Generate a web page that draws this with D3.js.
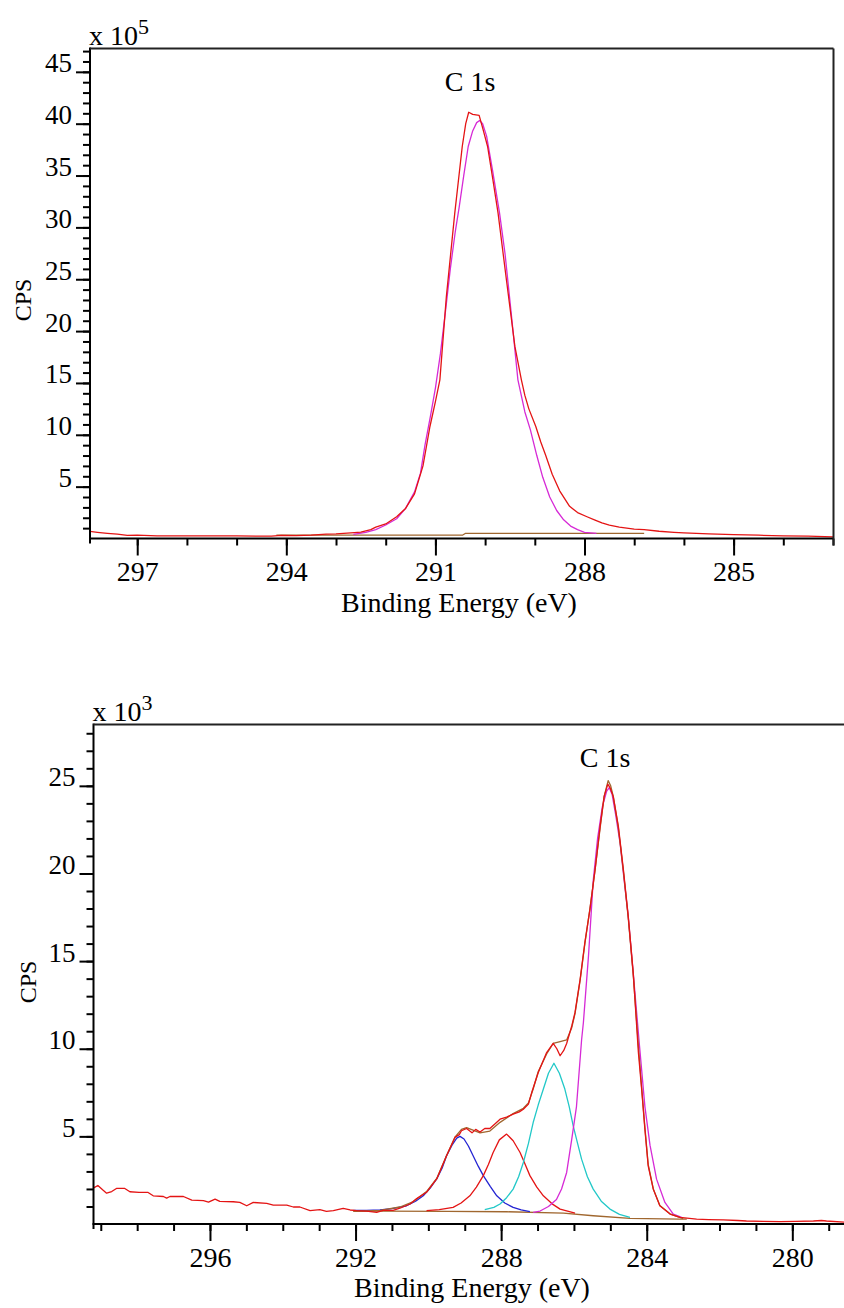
<!DOCTYPE html>
<html>
<head>
<meta charset="utf-8">
<script src="https://cdn.jsdelivr.net/npm/d3@7"></script>
<style>
body { margin: 0; background: #fff; }
svg { display: block; }
</style>
</head>
<body>
<div id="chart"></div>
<script>
// ---- data, [binding energy (eV), CPS in units of the axis multiplier] ----

// upper spectrum (x 10^5)
var topRaw = [[298.0,0.72],[297.8,0.6],[297.6,0.5],[297.4,0.42],[297.2,0.3],[297.0,0.32],[296.6,0.25],[296.0,0.25],
  [295.0,0.25],[294.3,0.22],[294.1,0.3],[293.8,0.28],[293.5,0.33],[293.2,0.42],[293.0,0.45],[292.7,0.55],[292.5,0.62],
  [292.3,0.85],[292.2,1.1],[292.0,1.4],[291.78,2.1],[291.6,2.9],[291.42,4.3],[291.25,7.0],[291.11,10.8],[291.0,13.2],
  [290.91,15.3],[290.78,23.3],[290.61,31.4],[290.46,37.8],[290.39,40.0],[290.33,41.1],[290.25,40.9],[290.12,40.8],
  [290.05,39.6],[289.95,37.8],[289.85,34.8],[289.74,31.4],[289.57,24.9],[289.4,18.5],[289.27,15.3],[289.2,13.8],
  [289.12,12.5],[288.98,10.8],[288.88,9.3],[288.78,8.0],[288.65,6.2],[288.5,4.6],[288.3,3.1],[288.14,2.5],[287.95,2.1],
  [287.8,1.8],[287.65,1.5],[287.5,1.3],[287.3,1.1],[287.0,0.9],[286.8,0.85],[286.5,0.7],[286.2,0.6],[286.0,0.55],
  [285.5,0.45],[285.0,0.38],[284.5,0.32],[284.0,0.25],[283.5,0.22],[283.0,0.15]];
var topPeak = [[292.65,0.4],[292.4,0.6],[292.2,0.85],[292.0,1.3],[291.78,1.9],[291.6,2.9],[291.42,4.5],[291.3,6.3],
  [291.21,9.0],[291.1,11.8],[291.0,14.5],[290.9,17.8],[290.8,21.8],[290.7,26.0],[290.6,29.6],[290.52,32.0],[290.43,35.0],
  [290.34,37.8],[290.25,39.3],[290.17,40.1],[290.11,40.3],[290.05,40.0],[289.97,38.8],[289.85,35.5],[289.71,31.4],
  [289.6,27.5],[289.47,21.5],[289.34,15.3],[289.2,12.2],[289.09,10.5],[288.96,8.0],[288.84,5.9],[288.7,4.0],
  [288.56,2.7],[288.42,1.8],[288.28,1.2],[288.14,0.85],[288.0,0.6],[287.76,0.5]];
var topBackground = [[294.2,0.33],[290.45,0.33],[290.4,0.49],[286.8,0.49]];

// lower spectrum (x 10^3)
var lowRaw = [[299.2,2.05],[299.17,2.09],[299.08,2.2],[298.95,1.95],[298.84,1.76],[298.7,1.85],[298.57,2.03],[298.34,2.03],
  [298.2,1.84],[297.95,1.8],[297.7,1.8],[297.56,1.61],[297.28,1.57],[297.19,1.48],[297.1,1.57],[296.73,1.57],[296.5,1.36],
  [296.18,1.33],[296.04,1.25],[295.86,1.42],[295.73,1.29],[295.36,1.27],[295.18,1.23],[294.99,1.04],[294.81,1.23],
  [294.44,1.18],[294.26,1.08],[293.89,1.08],[293.71,0.97],[293.53,0.97],[293.25,0.76],[292.98,0.82],[292.8,0.72],
  [292.61,0.76],[292.34,0.89],[292.15,0.8],[291.97,0.76],[291.7,0.74],[291.42,0.66],[291.24,0.78],[290.97,0.78],
  [290.78,0.9],[290.5,1.14],[290.32,1.45],[290.05,1.81],[289.77,2.57],[289.5,3.89],[289.27,4.94],[289.15,5.1],
  [289.09,5.32],[288.95,5.45],[288.8,5.2],[288.7,5.4],[288.58,5.25],[288.45,5.45],[288.31,5.45],[288.15,5.75],
  [288.03,5.98],[287.85,6.1],[287.67,6.27],[287.5,6.4],[287.39,6.55],[287.25,6.84],[287.16,7.5],[286.98,8.64],
  [286.75,9.78],[286.57,10.31],[286.47,10.0],[286.38,9.6],[286.28,9.9],[286.2,10.3],[286.06,11.3],[285.97,12.07],
  [285.83,13.96],[285.7,16.05],[285.56,17.95],[285.42,20.2],[285.28,22.7],[285.17,24.4],[285.07,25.1],[285.01,24.9],
  [284.92,24.4],[284.78,22.7],[284.64,20.2],[284.51,17.6],[284.37,14.3],[284.23,9.8],[284.14,7.7],[284.05,5.4],
  [283.96,3.32],[283.82,1.99],[283.64,1.04],[283.36,0.57],[283.09,0.38],[282.63,0.28],[282.3,0.25],[281.9,0.23],
  [281.5,0.2],[281.26,0.17],[280.8,0.15],[280.34,0.13],[279.9,0.15],[279.42,0.17],[279.2,0.2],[279.06,0.17],[278.58,0.11]];
var lowEnvelope = [[292.06,0.72],[291.33,0.78],[290.78,0.97],[290.41,1.28],[290.05,1.85],[289.77,2.6],[289.5,3.9],
  [289.27,4.95],[289.09,5.4],[288.95,5.5],[288.58,5.2],[288.31,5.3],[288.03,5.8],[287.67,6.3],[287.39,6.6],[287.25,6.9],
  [287.12,7.7],[286.98,8.7],[286.75,9.7],[286.57,10.3],[286.38,10.4],[286.2,10.5],[286.06,11.2],[285.97,12.0],
  [285.83,13.9],[285.7,16.0],[285.56,18.0],[285.42,20.2],[285.28,22.6],[285.17,24.4],[285.06,25.3],[284.99,25.0],
  [284.92,24.4],[284.78,22.6],[284.64,20.1],[284.51,17.5],[284.37,14.2],[284.23,10.2],[284.14,7.8],[284.05,5.5],
  [283.96,3.4],[283.82,2.0],[283.64,1.05],[283.36,0.58],[283.09,0.38],[283.0,0.3]];
var lowPeakCC = [[287.12,0.66],[286.93,0.74],[286.7,1.0],[286.48,1.4],[286.34,2.0],[286.2,2.94],[286.06,4.84],
  [285.93,6.7],[285.79,10.5],[285.74,11.5],[285.6,15.3],[285.47,19.6],[285.35,22.0],[285.22,23.8],[285.1,24.7],
  [285.03,24.9],[284.95,24.5],[284.85,23.3],[284.73,21.7],[284.62,19.6],[284.51,17.6],[284.37,14.3],[284.2,10.2],
  [284.05,6.7],[283.91,4.5],[283.73,2.56],[283.5,1.23],[283.27,0.57],[283.04,0.38]];
var lowPeakCO = [[288.45,0.82],[288.2,0.95],[288.03,1.14],[287.85,1.5],[287.67,1.99],[287.52,2.7],[287.39,3.51],
  [287.25,4.6],[287.12,5.79],[286.98,6.8],[286.84,7.7],[286.7,8.6],[286.55,9.17],[286.4,8.6],[286.25,7.7],
  [286.13,6.7],[286.02,5.6],[285.9,4.6],[285.79,3.7],[285.63,2.7],[285.47,1.99],[285.25,1.3],[285.01,0.85],
  [284.75,0.55],[284.46,0.38]];
var lowPeakCdO = [[290.05,0.76],[289.7,0.82],[289.32,0.95],[289.1,1.2],[288.86,1.61],[288.68,2.1],[288.49,2.76],
  [288.35,3.4],[288.22,4.08],[288.05,4.8],[287.85,5.13],[287.67,4.75],[287.48,4.08],[287.35,3.45],[287.21,2.76],
  [287.02,2.1],[286.84,1.61],[286.6,1.15],[286.38,0.85],[285.97,0.62]];
var lowPeakOCO = [[292.06,0.78],[291.7,0.78],[291.33,0.8],[291.0,0.88],[290.6,1.04],[290.35,1.3],[290.14,1.61],
  [289.95,2.05],[289.77,2.57],[289.62,3.2],[289.5,3.89],[289.35,4.5],[289.22,4.9],[289.13,5.0],[289.02,4.85],
  [288.9,4.45],[288.77,3.89],[288.63,3.3],[288.49,2.76],[288.3,2.15],[288.12,1.61],[287.9,1.2],[287.67,0.95],
  [287.45,0.8],[287.21,0.7]];
var lowBackground = [[292.06,0.72],[291.33,0.74],[289.5,0.72],[287.85,0.7],[286.29,0.62],[285.47,0.47],
  [284.46,0.32],[283.09,0.28],[282.9,0.28]];

// tick labels
var topXLabels = [297, 294, 291, 288, 285];
var topYLabels = [5, 10, 15, 20, 25, 30, 35, 40, 45];
var lowXLabels = [296, 292, 288, 284, 280];
var lowYLabels = [5, 10, 15, 20, 25];

var RED = "#e41414", MAGENTA = "#d62ad6", CYAN = "#22c8c8", BLUE = "#2424d2", BROWN = "#a0672f";
var FONT = "'Liberation Serif', 'Times New Roman', Times, serif";

var W = 844, H = 1308;
var svg = d3.select("#chart").append("svg")
    .attr("width", W)
    .attr("height", H)
    .style("font-family", FONT);

// Draw one spectrum panel
function drawPanel(p) {
    var x = d3.scaleLinear().domain(p.xDomain).range([p.left, p.right]);
    var y = d3.scaleLinear().domain(p.yDomain).range([p.bottom, p.top]);
    var g = svg.append("g");

    var clipId = "clip" + p.id;
    svg.append("clipPath").attr("id", clipId)
        .append("rect")
        .attr("x", p.left).attr("y", p.top)
        .attr("width", p.right - p.left).attr("height", p.bottom - p.top);

    var line = d3.line()
        .x(function(d) { return x(d[0]); })
        .y(function(d) { return y(d[1]); });

    var plot = g.append("g").attr("clip-path", "url(#" + clipId + ")");
    p.series.forEach(function(s) {
        plot.append("path")
            .datum(s.data)
            .attr("fill", "none")
            .attr("stroke", s.color)
            .attr("stroke-width", 1.3)
            .attr("stroke-linejoin", "round")
            .attr("d", line);
    });

    // minor x ticks
    var xMinor = g.append("g")
        .attr("transform", "translate(0," + p.bottom + ")")
        .call(d3.axisBottom(x).tickValues(p.xMinor).tickSize(7).tickFormat(""));
    // major x ticks + labels
    var xMajor = g.append("g")
        .attr("transform", "translate(0," + p.bottom + ")")
        .call(d3.axisBottom(x).tickValues(p.xLabels).tickSize(17).tickPadding(6).tickFormat(d3.format("d")));

    var yMinor = g.append("g")
        .attr("transform", "translate(" + p.left + ",0)")
        .call(d3.axisLeft(y).tickValues(p.yMinor).tickSize(7).tickFormat(""));
    var yMajor = g.append("g")
        .attr("transform", "translate(" + p.left + ",0)")
        .call(d3.axisLeft(y).tickValues(p.yLabels).tickSize(14).tickPadding(4).tickFormat(d3.format("d")));

    [xMinor, xMajor, yMinor, yMajor].forEach(function(a) {
        a.attr("font-family", FONT);
        a.select(".domain").remove();
        a.selectAll("line").attr("stroke", "#000").attr("stroke-width", 2);
    });
    xMajor.selectAll("text").attr("font-size", 28).attr("fill", "#000").style("font-family", FONT);
    yMajor.selectAll("text").attr("font-size", 27).attr("dy", 0).attr("fill", "#000").style("font-family", FONT);

    // frame
    g.append("line").attr("x1", p.left).attr("x2", p.left).attr("y1", p.top - 1).attr("y2", p.bottom + 5)
        .attr("stroke", "#000").attr("stroke-width", 2);
    g.append("line").attr("x1", p.left - 1).attr("x2", p.right).attr("y1", p.bottom).attr("y2", p.bottom)
        .attr("stroke", "#000").attr("stroke-width", 2);
    g.append("line").attr("x1", p.left).attr("x2", p.right).attr("y1", p.top).attr("y2", p.top)
        .attr("stroke", "#222").attr("stroke-width", 2);
    if (p.rightBorder) {
        g.append("line").attr("x1", p.right).attr("x2", p.right).attr("y1", p.top).attr("y2", p.bottom + 7)
            .attr("stroke", "#222").attr("stroke-width", 2);
    }

    // texts
    g.append("text").attr("x", p.titleX).attr("y", p.titleY)
        .attr("text-anchor", "middle").attr("font-size", 28).style("font-family", FONT).text("C 1s");
    g.append("text").attr("x", p.xTitleX).attr("y", p.xTitleY)
        .attr("text-anchor", "middle").attr("font-size", 28).style("font-family", FONT).text("Binding Energy (eV)");
    g.append("text")
        .attr("transform", "translate(" + p.yTitleX + "," + p.yTitleY + ") rotate(-90)")
        .attr("text-anchor", "middle").attr("font-size", 24).style("font-family", FONT).text("CPS");

    var mult = g.append("text").attr("x", p.left - 1).attr("y", p.top - 4)
        .attr("font-size", 28).style("font-family", FONT);
    mult.append("tspan").text("x 10");
    mult.append("tspan").attr("font-size", 22).attr("dy", -11).text(p.exponent);
}

drawPanel({
    id: "top", left: 90, right: 833.5, top: 48.5, bottom: 538.5,
    xDomain: [297.95, 282.99], yDomain: [0, 47.25],
    xLabels: topXLabels, xMinor: d3.range(283, 298),
    yLabels: topYLabels, yMinor: d3.range(1, 48),
    rightBorder: true, exponent: "5",
    titleX: 470, titleY: 91, xTitleX: 459, xTitleY: 612, yTitleX: 31, yTitleY: 300,
    series: [
        { data: topBackground, color: BROWN },
        { data: topPeak, color: MAGENTA },
        { data: topRaw, color: RED }
    ]
});

drawPanel({
    id: "low", left: 93.5, right: 844, top: 724.5, bottom: 1224,
    xDomain: [299.2, 278.58], yDomain: [0, 28.5],
    xLabels: lowXLabels, xMinor: d3.range(279, 300),
    yLabels: lowYLabels, yMinor: d3.range(1, 29),
    rightBorder: false, exponent: "3",
    titleX: 605, titleY: 767, xTitleX: 472, xTitleY: 1297, yTitleX: 36, yTitleY: 982,
    series: [
        { data: lowBackground, color: BROWN },
        { data: lowPeakOCO, color: BLUE },
        { data: lowPeakCdO, color: RED },
        { data: lowPeakCO, color: CYAN },
        { data: lowPeakCC, color: MAGENTA },
        { data: lowEnvelope, color: BROWN },
        { data: lowRaw, color: RED }
    ]
});
</script>
</body>
</html>
